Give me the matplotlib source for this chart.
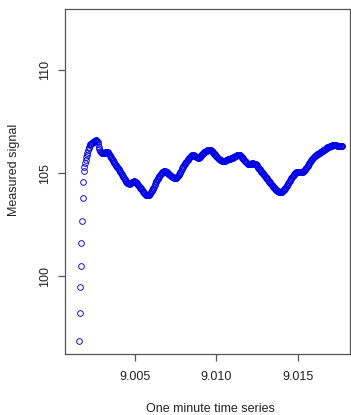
import numpy as np
import matplotlib
matplotlib.use("Agg")
import matplotlib.pyplot as plt

# Time axis (hours) of the one-minute record
t_start = 9.001564
t_end = 9.017724

signal = [
    96.86, 98.22, 99.49, 100.50, 101.62, 102.68, 103.80, 104.58, 105.11, 105.31,
    105.50, 105.65, 105.79, 105.89, 106.00, 106.11, 106.22, 106.29, 106.36, 106.40,
    106.43, 106.46, 106.49, 106.51, 106.53, 106.55, 106.57, 106.59, 106.61, 106.62,
    106.58, 106.50, 106.40, 106.28, 106.17, 106.07, 106.03, 106.01, 105.99, 105.98,
    105.98, 105.98, 105.99, 106.00, 106.01, 106.02, 106.03, 106.03, 106.02, 105.99,
    105.95, 105.90, 105.86, 105.81, 105.76, 105.71, 105.66, 105.61, 105.56, 105.51,
    105.46, 105.41, 105.37, 105.33, 105.29, 105.25, 105.21, 105.16, 105.12, 105.08,
    105.03, 104.98, 104.93, 104.87, 104.82, 104.77, 104.72, 104.68, 104.63, 104.59,
    104.55, 104.53, 104.52, 104.51, 104.50, 104.50, 104.52, 104.54, 104.57, 104.59,
    104.60, 104.61, 104.61, 104.60, 104.59, 104.57, 104.53, 104.49, 104.45, 104.42,
    104.38, 104.35, 104.31, 104.27, 104.22, 104.18, 104.14, 104.10, 104.06, 104.02,
    103.99, 103.97, 103.95, 103.94, 103.93, 103.93, 103.94, 103.96, 103.98, 104.02,
    104.07, 104.12, 104.17, 104.22, 104.28, 104.35, 104.42, 104.49, 104.56, 104.61,
    104.66, 104.71, 104.76, 104.81, 104.87, 104.92, 104.95, 104.98, 105.01, 105.04,
    105.07, 105.09, 105.11, 105.11, 105.10, 105.08, 105.06, 105.04, 105.02, 104.99,
    104.97, 104.94, 104.92, 104.89, 104.86, 104.84, 104.82, 104.81, 104.79, 104.78,
    104.77, 104.76, 104.77, 104.80, 104.84, 104.88, 104.93, 104.97, 105.00, 105.07,
    105.13, 105.19, 105.24, 105.30, 105.35, 105.40, 105.44, 105.49, 105.53, 105.57,
    105.62, 105.66, 105.70, 105.73, 105.76, 105.79, 105.82, 105.85, 105.87, 105.88,
    105.88, 105.87, 105.86, 105.85, 105.83, 105.81, 105.79, 105.77, 105.76, 105.75,
    105.74, 105.77, 105.81, 105.85, 105.89, 105.93, 105.96, 105.99, 106.01, 106.03,
    106.05, 106.07, 106.09, 106.10, 106.12, 106.13, 106.13, 106.13, 106.13, 106.12,
    106.11, 106.09, 106.07, 106.03, 106.00, 105.96, 105.92, 105.89, 105.85, 105.82,
    105.79, 105.76, 105.73, 105.71, 105.68, 105.65, 105.64, 105.63, 105.62, 105.61,
    105.61, 105.60, 105.60, 105.61, 105.62, 105.63, 105.64, 105.65, 105.67, 105.68,
    105.69, 105.70, 105.71, 105.72, 105.73, 105.74, 105.76, 105.78, 105.79, 105.81,
    105.83, 105.85, 105.86, 105.87, 105.87, 105.88, 105.88, 105.89, 105.89, 105.87,
    105.83, 105.79, 105.76, 105.72, 105.69, 105.65, 105.62, 105.59, 105.56, 105.53,
    105.50, 105.47, 105.45, 105.45, 105.46, 105.46, 105.47, 105.47, 105.48, 105.48,
    105.48, 105.47, 105.47, 105.46, 105.46, 105.45, 105.41, 105.36, 105.32, 105.28,
    105.23, 105.19, 105.15, 105.11, 105.08, 105.04, 105.00, 104.97, 104.93, 104.90,
    104.86, 104.82, 104.79, 104.75, 104.72, 104.68, 104.64, 104.60, 104.57, 104.53,
    104.49, 104.45, 104.42, 104.38, 104.34, 104.31, 104.27, 104.24, 104.20, 104.18,
    104.16, 104.14, 104.13, 104.11, 104.10, 104.09, 104.09, 104.10, 104.11, 104.13,
    104.15, 104.19, 104.22, 104.26, 104.30, 104.34, 104.38, 104.43, 104.47, 104.51,
    104.57, 104.62, 104.67, 104.72, 104.77, 104.82, 104.86, 104.89, 104.93, 104.96,
    105.00, 105.03, 105.06, 105.06, 105.05, 105.05, 105.04, 105.04, 105.04, 105.04,
    105.05, 105.06, 105.07, 105.08, 105.10, 105.11, 105.15, 105.20, 105.24, 105.28,
    105.33, 105.37, 105.41, 105.46, 105.50, 105.55, 105.59, 105.63, 105.68, 105.71,
    105.74, 105.77, 105.80, 105.83, 105.86, 105.89, 105.91, 105.93, 105.94, 105.96,
    105.98, 106.00, 106.02, 106.03, 106.05, 106.07, 106.09, 106.11, 106.12, 106.15,
    106.17, 106.19, 106.21, 106.24, 106.26, 106.28, 106.29, 106.30, 106.31, 106.32,
    106.33, 106.34, 106.35, 106.35, 106.35, 106.35, 106.35, 106.35, 106.35, 106.35,
    106.34, 106.34, 106.34, 106.33, 106.33, 106.33, 106.33, 106.33, 106.33, 106.33,
]

x_ticks = [9.005, 9.010, 9.015]
x_tick_labels = ["9.005", "9.010", "9.015"]
y_ticks = [100, 105, 110]
y_tick_labels = ["100", "105", "110"]

time = np.linspace(t_start, t_end, len(signal))

plt.rcParams["font.family"] = ["Liberation Sans", "DejaVu Sans"]

W, H = 351, 415
fig = plt.figure(figsize=(W / 100, H / 100), dpi=100)
fig.patch.set_facecolor("white")
ax = fig.add_axes([65 / W, (H - 354) / H, (350 - 65) / W, (354 - 9) / H])

ax.plot(time, signal, linestyle="none", marker="o", markersize=4.1,
        markerfacecolor="none", markeredgecolor="#0000e6", markeredgewidth=0.65)

ax.set_xlim(9.000706, 9.018190)
ax.set_ylim(96.228, 112.976)

ax.set_xticks(x_ticks)
ax.set_xticklabels(x_tick_labels)
ax.set_yticks(y_ticks)
ax.set_yticklabels(y_tick_labels, rotation=90, va="center")

for s in ax.spines.values():
    s.set_color("#555555")
    s.set_linewidth(0.9)

ax.tick_params(axis="x", direction="out", length=5, width=0.9,
               color="#555555", labelsize=9, labelcolor="#222222", pad=7)
ax.tick_params(axis="y", direction="out", length=5, width=0.9,
               color="#555555", labelsize=9, labelcolor="#222222", pad=5)

ax.set_xlabel("One minute time series", fontsize=9, color="#222222")
ax.set_ylabel("Measured signal", fontsize=9, color="#222222")
ax.xaxis.set_label_coords((210 - 65) / (350 - 65), (354 - 403) / (354 - 9))
ax.yaxis.set_label_coords((20 - 65) / (350 - 65), (354 - 170) / (354 - 9))

fig.savefig("out.png", dpi=100, facecolor="white")
